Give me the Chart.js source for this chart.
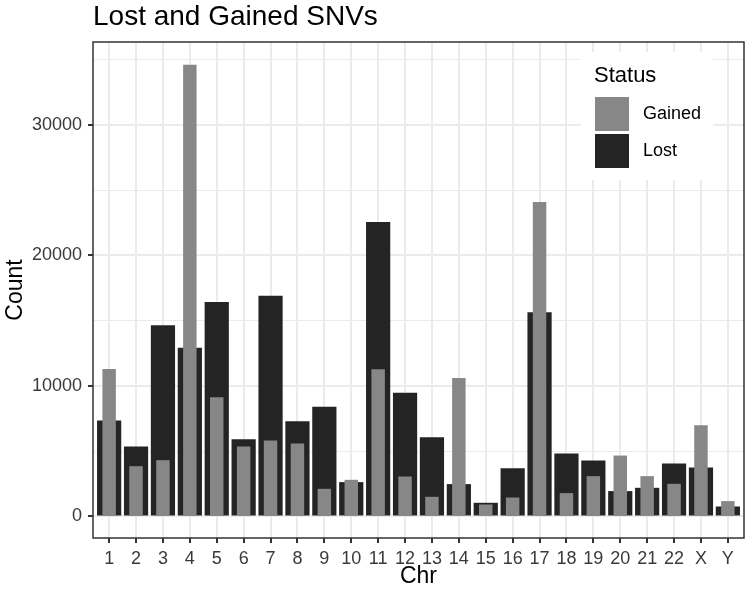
<!DOCTYPE html>
<html lang="en">
<head>
  <meta charset="UTF-8">
  <title>Lost and Gained SNVs</title>
  <script src="https://cdn.jsdelivr.net/npm/chart.js"></script>
  <style>
    body {
      margin: 0;
      background: #ffffff;
    }
    .wrap {
      width: 750px;
      height: 593px;
    }
  </style>
</head>
<body>

<div class="wrap">
  <canvas id="snvChart" width="750" height="593"></canvas>
</div>

<script>
// chromosomes on the x axis
const chromosomes = ['1', '2', '3', '4', '5', '6', '7', '8', '9', '10', '11', '12',
  '13', '14', '15', '16', '17', '18', '19', '20', '21', '22', 'X', 'Y'];

// counts
const lostCounts = [7345, 5356, 14645, 12930, 16427, 5922, 16909, 7299, 8416, 2632, 22571, 9487,
  6075, 2479, 1048, 3703, 15639, 4820, 4285, 1943, 2196, 4055, 3749, 765];
const gainedCounts = [11300, 3856, 4315, 34613, 9135, 5356, 5815, 5585, 2119, 2808, 11278, 3060,
  1507, 10612, 918, 1454, 24101, 1790, 3091, 4667, 3091, 2502, 6993, 1178];

const yTicks = [0, 5000, 10000, 15000, 20000, 25000, 30000, 35000];

const FONT = "'Liberation Sans', Arial, sans-serif";
const GRID = '#ebebeb';
const INK = '#333333';

// ggplot-like decorations: title, legend inside the panel, panel border
const decorations = {
  id: 'decorations',
  afterDatasetsDraw(chart) {
    const ctx = chart.ctx;
    const area = chart.chartArea;
    ctx.save();

    // legend box
    ctx.fillStyle = '#ffffff';
    ctx.fillRect(581, 52, 132, 128);
    ctx.fillStyle = '#000000';
    ctx.font = '22px ' + FONT;
    ctx.textBaseline = 'alphabetic';
    ctx.textAlign = 'left';
    ctx.fillText('Status', 594, 82);
    ctx.font = '18px ' + FONT;
    ctx.textBaseline = 'middle';
    chart.data.datasets.forEach((ds, i) => {
      const top = 97 + i * 37;
      ctx.fillStyle = ds.backgroundColor;
      ctx.fillRect(595, top, 34, 34);
      ctx.fillStyle = '#000000';
      ctx.fillText(ds.label, 643, top + 17);
    });

    // panel border
    ctx.strokeStyle = INK;
    ctx.lineWidth = 1.5;
    ctx.strokeRect(area.left, area.top, area.right - area.left, area.bottom - area.top);

    // title
    ctx.fillStyle = '#000000';
    ctx.font = '28px ' + FONT;
    ctx.textBaseline = 'alphabetic';
    ctx.fillText('Lost and Gained SNVs', 93, 25);
    ctx.restore();
  }
};

new Chart(document.getElementById('snvChart'), {
  type: 'bar',
  data: {
    datasets: [{
      label: 'Gained',
      data: gainedCounts.map((v, i) => ({ x: i + 1, y: v })),
      backgroundColor: '#878787',
      barPercentage: 0.5,
      categoryPercentage: 1,
      grouped: false,
      order: 0
    }, {
      label: 'Lost',
      data: lostCounts.map((v, i) => ({ x: i + 1, y: v })),
      backgroundColor: '#242424',
      barPercentage: 0.9,
      categoryPercentage: 1,
      grouped: false,
      order: 1
    }]
  },
  options: {
    responsive: false,
    animation: false,
    layout: {
      padding: { top: 42, right: 6, left: 0, bottom: 0 }
    },
    plugins: {
      legend: { display: false },
      title: { display: false },
      tooltip: { enabled: false }
    },
    scales: {
      x: {
        type: 'linear',
        offset: false,
        min: 0.4,
        max: 24.6,
        afterBuildTicks: axis => {
          axis.ticks = chromosomes.map((_, i) => ({ value: i + 1 }));
        },
        afterFit: axis => { axis.height = 55; },
        border: { display: false },
        grid: {
          offset: false,
          color: GRID,
          lineWidth: 2,
          tickColor: INK,
          tickLength: 5
        },
        ticks: {
          autoSkip: false,
          maxRotation: 0,
          padding: 5,
          color: '#3a3a3a',
          font: { family: FONT, size: 18 },
          callback: v => chromosomes[v - 1]
        },
        title: {
          display: true,
          text: 'Chr',
          color: '#000000',
          font: { family: FONT, size: 23 },
          padding: { top: 0, bottom: 3 }
        }
      },
      y: {
        min: -1650,
        max: 36355,
        afterBuildTicks: axis => {
          axis.ticks = yTicks.map(v => ({ value: v }));
        },
        afterFit: axis => { axis.width = 93; },
        border: { display: false },
        grid: {
          color: GRID,
          lineWidth: ctx => (ctx.tick && ctx.tick.value % 10000 === 0 ? 2 : 1),
          tickColor: ctx => (ctx.tick && ctx.tick.value % 10000 === 0 ? INK : 'rgba(0,0,0,0)'),
          tickLength: 5
        },
        ticks: {
          padding: 6,
          color: '#3a3a3a',
          font: { family: FONT, size: 18 },
          callback: v => (v % 10000 === 0 ? String(v) : '')
        },
        title: {
          display: true,
          text: 'Count',
          color: '#000000',
          font: { family: FONT, size: 23 },
          padding: { top: 2, bottom: 0 }
        }
      }
    }
  },
  plugins: [decorations]
});
</script>

</body>
</html>
